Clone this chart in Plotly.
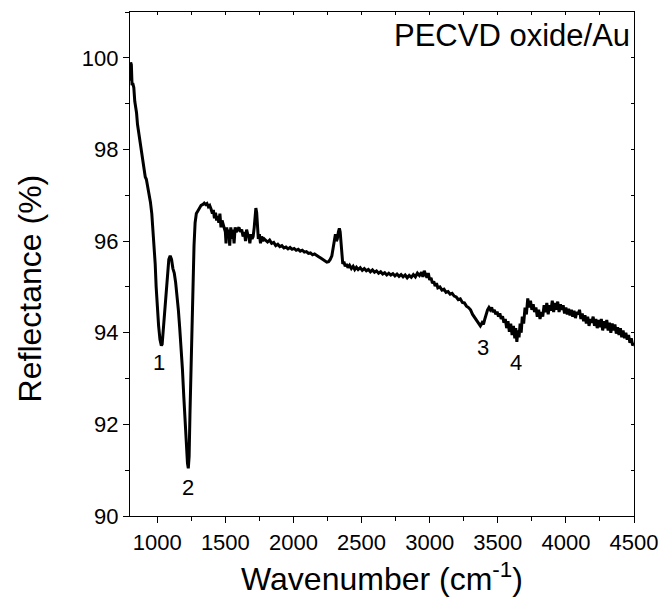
import plotly.graph_objects as go

wavenumber = [800, 805, 810, 815, 820, 828, 835, 841, 848, 855, 862, 868, 875, 882, 890, 897, 905, 912, 920, 930, 940, 950, 960, 968, 976, 985, 992, 1000, 1010, 1020, 1030, 1036, 1045, 1055, 1065, 1075, 1085, 1095, 1105, 1115, 1125, 1135, 1145, 1155, 1165, 1175, 1185, 1195, 1205, 1215, 1222, 1228, 1234, 1240, 1248, 1255, 1262, 1270, 1278, 1287, 1297, 1310, 1322, 1335, 1345, 1355, 1365, 1375, 1385, 1395, 1405, 1412, 1420, 1428, 1436, 1444, 1452, 1460, 1468, 1476, 1484, 1492, 1500, 1505, 1510, 1518, 1525, 1532, 1540, 1548, 1556, 1564, 1572, 1580, 1590, 1600, 1610, 1620, 1630, 1640, 1648, 1656, 1664, 1672, 1680, 1688, 1696, 1704, 1712, 1718, 1724, 1730, 1736, 1742, 1750, 1758, 1766, 1775, 1785, 1795,
              1810, 1825, 1840, 1855, 1870, 1885, 1900, 1915, 1930, 1945, 1960, 1975, 1990, 2005, 2020, 2035, 2050, 2065, 2080, 2095, 2110, 2125, 2140, 2155, 2170, 2185, 2200, 2215, 2230, 2245, 2258, 2270, 2282, 2292, 2300, 2308, 2315, 2322, 2330, 2337, 2343, 2349, 2355, 2362, 2370, 2380, 2390, 2400, 2412, 2425, 2438, 2450, 2462, 2475, 2490, 2505, 2520, 2535, 2550, 2565, 2580, 2595, 2610, 2625, 2640, 2655, 2670, 2685, 2700, 2715, 2730, 2745, 2760, 2775, 2790, 2805, 2820, 2835, 2850, 2865, 2880, 2895, 2910, 2925, 2940, 2950, 2960, 2970, 2980, 2990, 3000, 3010, 3020, 3030, 3040, 3050, 3060, 3075, 3090, 3105, 3120, 3135, 3150, 3165, 3180, 3195, 3210, 3225, 3240, 3255, 3270, 3285, 3300, 3315, 3330, 3345, 3360, 3372, 3385, 3395, 3405, 3415, 3425, 3435, 3445, 3455, 3465, 3475, 3485, 3495, 3505, 3515, 3525, 3535, 3545, 3555, 3565, 3575, 3585, 3595, 3605, 3615, 3625, 3632, 3640, 3648, 3656, 3664, 3672, 3680, 3690, 3700, 3710, 3720, 3730, 3740, 3750, 3760, 3770, 3780, 3790, 3800, 3810, 3820, 3830, 3840, 3850, 3860, 3870, 3880, 3890, 3900, 3910, 3920, 3930, 3940, 3950, 3960, 3970, 3980, 3990, 4000, 4010, 4020, 4030, 4040, 4050, 4060, 4070, 4080, 4090, 4100, 4110, 4120, 4130, 4140, 4150, 4160, 4170, 4180, 4190, 4200, 4210, 4220, 4230, 4240, 4250, 4260, 4270, 4280, 4290, 4300, 4310, 4320, 4330, 4340, 4350, 4360, 4370, 4380, 4390, 4400, 4410, 4420, 4430, 4440, 4450, 4460, 4470, 4480, 4490, 4500]

reflectance = [99.5, 99.9, 99.85, 99.4, 99.45, 99.35, 99.05, 98.95, 98.8, 98.55, 98.4, 98.3, 98.1, 98.0, 97.85, 97.7, 97.55, 97.4, 97.35, 97.2, 97.05, 96.85, 96.6, 96.3, 96.0, 95.5, 95.0, 94.55, 94.15, 93.85, 93.72, 93.75, 94.1, 94.6, 95.0, 95.35, 95.6, 95.68, 95.6, 95.4, 95.3, 95.1, 94.85, 94.5, 94.1, 93.7, 93.2, 92.6, 92.0, 91.45, 91.15, 91.04, 91.3, 92.2, 93.2, 94.3, 95.2, 95.9, 96.4, 96.6, 96.65, 96.72, 96.78, 96.8, 96.83, 96.8, 96.82, 96.75, 96.78, 96.7, 96.6, 96.68, 96.5, 96.62, 96.45, 96.55, 96.4, 96.6, 96.3, 96.45, 96.35, 96.3, 96.2, 95.95, 96.3, 96.1, 96.25, 95.9, 96.3, 96.05, 96.25, 95.95, 96.3, 96.2, 96.25, 96.3, 96.2, 96.25, 96.1, 96.2, 96.0, 96.25, 96.15, 96.1, 95.95, 96.15, 96.05, 96.1, 96.3, 96.6, 96.72, 96.62, 96.3, 96.05, 96.15, 95.95, 96.1, 96.0, 96.05, 96.02,
               95.98, 96.02, 95.95, 95.97, 95.9, 95.93, 95.88, 95.9, 95.85, 95.87, 95.83, 95.86, 95.82, 95.84, 95.8, 95.82, 95.78, 95.8, 95.76, 95.77, 95.73, 95.74, 95.7, 95.72, 95.68, 95.66, 95.63, 95.6, 95.56, 95.54, 95.55, 95.6, 95.68, 95.85, 96.05, 96.15, 96.0, 96.05, 96.2, 96.28, 96.2, 95.9, 95.6, 95.5, 95.55, 95.45, 95.5, 95.42, 95.47, 95.4, 95.45, 95.38, 95.43, 95.38, 95.42, 95.36, 95.4, 95.35, 95.38, 95.33, 95.37, 95.32, 95.35, 95.3, 95.33, 95.28, 95.31, 95.26, 95.3, 95.26, 95.29, 95.24, 95.28, 95.23, 95.27, 95.22, 95.26, 95.2, 95.25, 95.21, 95.27, 95.22, 95.3, 95.25, 95.32, 95.22, 95.35, 95.28, 95.2, 95.3, 95.15, 95.2, 95.08, 95.12, 95.02, 95.08, 94.98, 95.0, 94.93, 94.95, 94.88, 94.9, 94.84, 94.86, 94.8, 94.78, 94.72, 94.74, 94.66, 94.65, 94.58, 94.55, 94.5, 94.4, 94.33, 94.28, 94.2, 94.15, 94.22, 94.18, 94.3, 94.42, 94.5, 94.55, 94.5, 94.55, 94.45, 94.5, 94.4, 94.46, 94.35, 94.42, 94.3, 94.36, 94.22, 94.3, 94.1, 94.25, 94.02, 94.2, 93.95, 94.15, 93.88, 94.1, 93.8, 94.05, 93.9, 94.2, 94.0, 94.35, 94.2, 94.55, 94.4, 94.75, 94.55, 94.7, 94.5, 94.62, 94.45, 94.55, 94.35, 94.5, 94.3, 94.45, 94.35, 94.6, 94.45, 94.65, 94.4, 94.6, 94.48, 94.7, 94.45, 94.65, 94.5, 94.68, 94.45, 94.62, 94.5, 94.6, 94.42, 94.55, 94.4, 94.52, 94.38, 94.5, 94.35, 94.48, 94.32, 94.45, 94.4, 94.5, 94.3, 94.42, 94.25, 94.38, 94.2, 94.35, 94.15, 94.3, 94.22, 94.35, 94.15, 94.3, 94.1, 94.28, 94.12, 94.3, 94.05, 94.25, 94.1, 94.28, 94.05, 94.22, 94.0, 94.2, 94.05, 94.18, 93.98, 94.12, 93.95, 94.1, 93.9, 94.05, 93.88, 94.0, 93.85, 93.95, 93.78, 93.88, 93.72, 93.78]

peak_labels = ["1", "2", "3", "4"]
peak_x = [1012, 1228, 3388, 3637]
peak_y = [93.34, 90.63, 93.67, 93.34]

sample_label = "PECVD oxide/Au"
x_title = "Wavenumber (cm<sup>-1</sup>)"
y_title = "Reflectance (%)"
x_range = [800, 4500]
y_range = [90, 101]

FONT = "Liberation Sans, Arial, sans-serif"

fig = go.Figure()
fig.add_trace(go.Scatter(x=wavenumber, y=reflectance, mode="lines",
                         line=dict(color="black", width=3), showlegend=False))

for lab, px, py in zip(peak_labels, peak_x, peak_y):
    fig.add_annotation(x=px, y=py, text=lab, showarrow=False,
                       font=dict(size=22, color="black", family=FONT))

fig.add_annotation(x=1, y=1, xref="paper", yref="paper", xanchor="right", yanchor="top",
                   text=sample_label, showarrow=False, xshift=-2, yshift=-4,
                   font=dict(size=31, color="black", family=FONT))

# y-axis title placed as rotated text to match reference position
fig.add_annotation(x=-0.198, y=0.452, xref="paper", yref="paper", text=y_title,
                   textangle=-90, showarrow=False, xanchor="center", yanchor="middle",
                   font=dict(size=32, color="black", family=FONT))

axis_common = dict(showgrid=False, zeroline=False, showline=True, linecolor="black",
                   linewidth=1.3, ticks="outside", tickcolor="black", tickwidth=1.3,
                   ticklen=6, automargin=False,
                   tickfont=dict(size=22, color="black", family=FONT))

fig.update_layout(
    width=664, height=605,
    margin=dict(l=130, r=30, t=12, b=89),
    plot_bgcolor="white", paper_bgcolor="white",
    xaxis=dict(range=x_range, dtick=500, tick0=1000,
               minor=dict(ticks="outside", dtick=250, tick0=1000, ticklen=3.5, tickcolor="black", tickwidth=1.3),
               title=dict(text=x_title, font=dict(size=32, color="black", family=FONT), standoff=14),
               **axis_common),
    yaxis=dict(range=y_range, dtick=2, tick0=90,
               minor=dict(ticks="outside", dtick=1, tick0=90, ticklen=3.5, tickcolor="black", tickwidth=1.3),
               **axis_common),
    xaxis2=dict(range=x_range, overlaying="x", side="top", showgrid=False, zeroline=False,
                showline=True, linecolor="black", linewidth=1.3, ticks="inside", ticklen=3,
                tickcolor="black", tickwidth=1, dtick=250, tick0=1000, showticklabels=False,
                automargin=False),
    yaxis2=dict(range=y_range, overlaying="y", side="right", showgrid=False, zeroline=False,
                showline=True, linecolor="black", linewidth=1.3, ticks="inside", ticklen=3,
                tickcolor="black", tickwidth=1, dtick=1, tick0=90, showticklabels=False,
                automargin=False),
)
fig.add_trace(go.Scatter(x=[x_range[0]], y=[y_range[0]], xaxis="x2", yaxis="y2",
                         mode="markers", marker=dict(opacity=0), showlegend=False, hoverinfo="skip"))

fig.write_html("out.html")
